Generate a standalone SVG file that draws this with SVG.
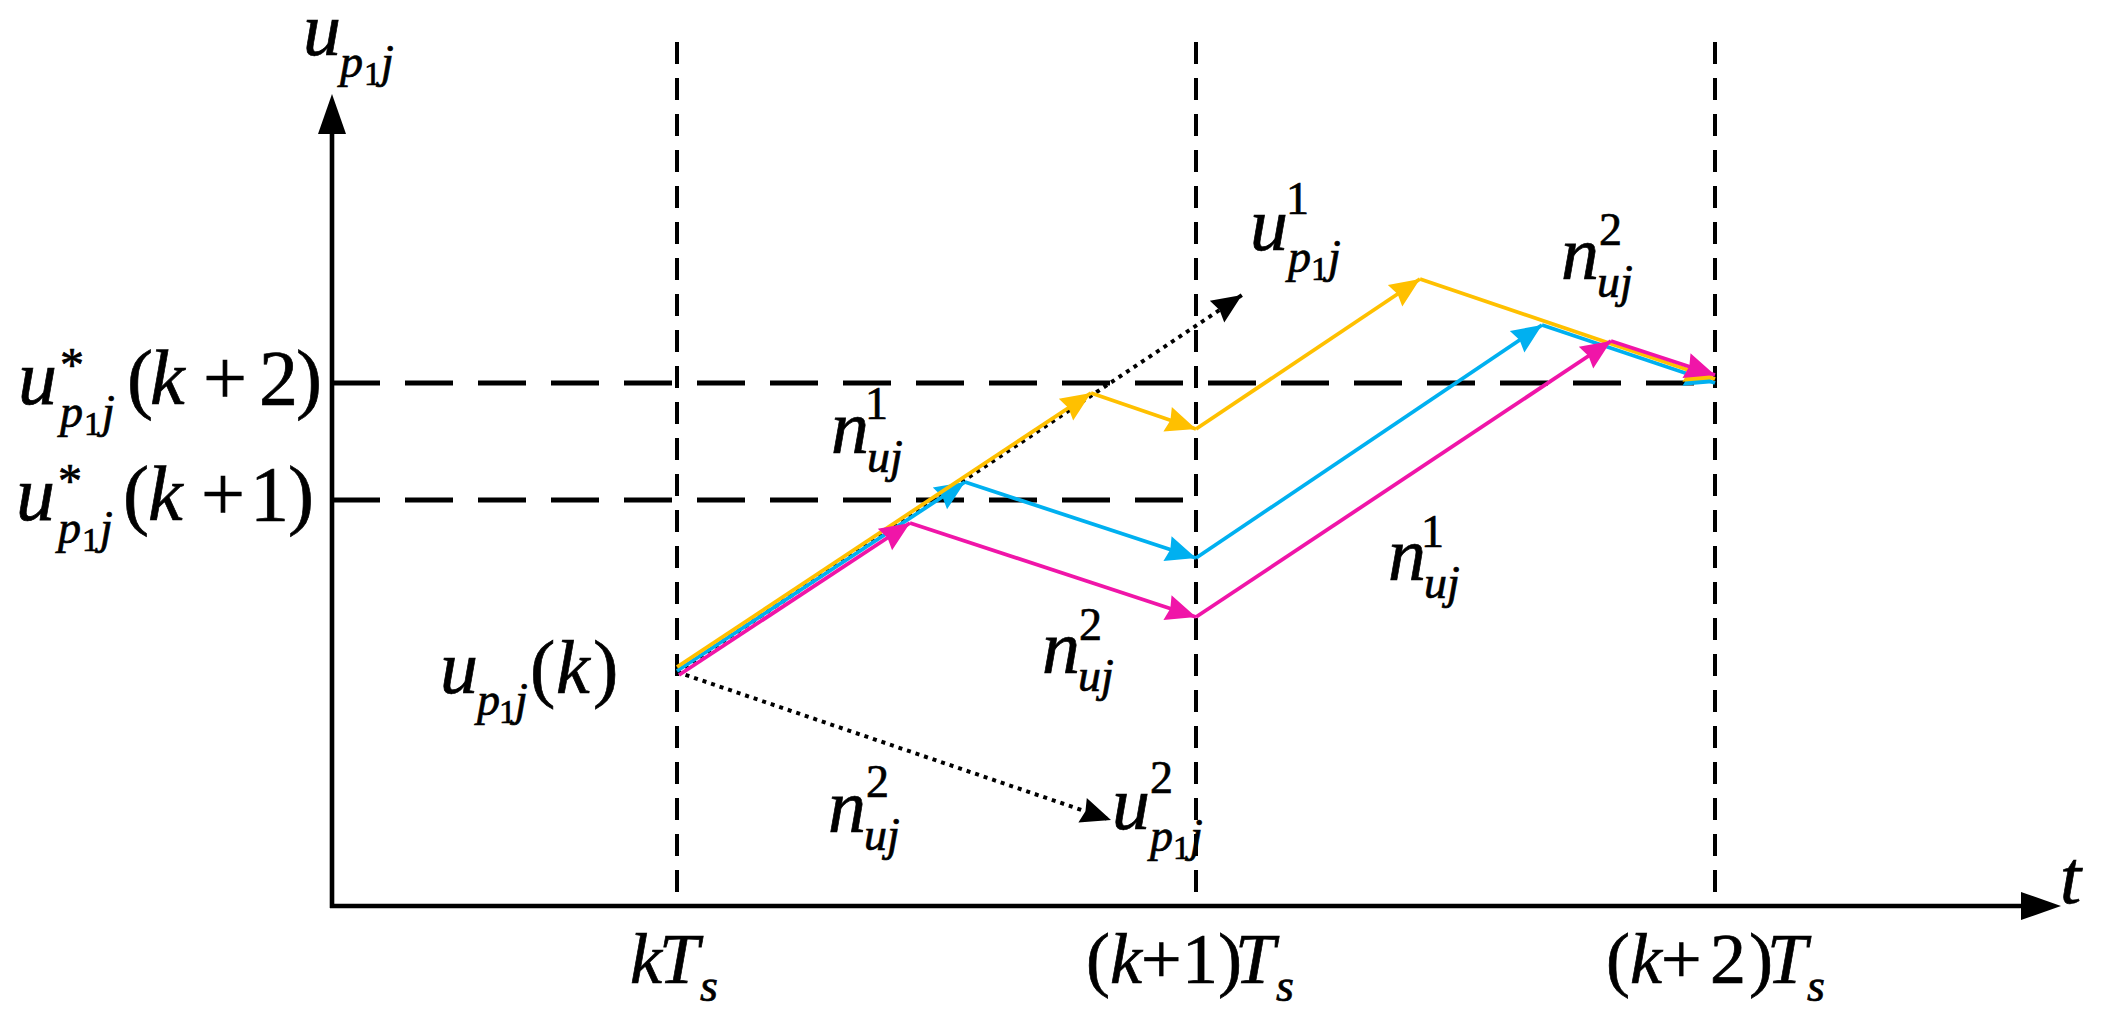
<svg xmlns="http://www.w3.org/2000/svg" width="2107" height="1019" viewBox="0 0 2107 1019">
<style>
text{font-family:"Liberation Serif","Times New Roman",serif;fill:#000;stroke:#000;stroke-width:0.7}
.it{font-size:76px;font-style:italic}
.rm{font-size:76px}
.L{font-size:78px}
.tk{font-size:72px}
.si{font-size:46px;font-style:italic}
.sr{font-size:46px}
.ss{font-size:34px}
.vd{stroke:#000;stroke-width:4;stroke-dasharray:22 14;fill:none}
.hd{stroke:#000;stroke-width:4.8;stroke-dasharray:48 25;fill:none}
.ax{stroke:#000;stroke-width:4.6;fill:none}
.dot{stroke:#000;stroke-width:4;stroke-dasharray:4 5;fill:none}
.o{stroke:#FFC000;stroke-width:3.8;fill:none;marker-end:url(#mo)}
.c{stroke:#00B0F0;stroke-width:3.8;fill:none;marker-end:url(#mc)}
.p{stroke:#F015A8;stroke-width:3.8;fill:none;marker-end:url(#mp)}
</style>
<defs>
<marker id="mo" markerUnits="userSpaceOnUse" viewBox="-32 -15 34 30" markerWidth="34" markerHeight="30" refX="0" refY="0" orient="auto"><path d="M0,0 L-30,-13 L-27,0 L-30,13 Z" fill="#FFC000"/></marker>
<marker id="mc" markerUnits="userSpaceOnUse" viewBox="-32 -15 34 30" markerWidth="34" markerHeight="30" refX="0" refY="0" orient="auto"><path d="M0,0 L-30,-13 L-27,0 L-30,13 Z" fill="#00B0F0"/></marker>
<marker id="mp" markerUnits="userSpaceOnUse" viewBox="-32 -15 34 30" markerWidth="34" markerHeight="30" refX="0" refY="0" orient="auto"><path d="M0,0 L-30,-13 L-27,0 L-30,13 Z" fill="#F015A8"/></marker>
<marker id="mk" markerUnits="userSpaceOnUse" viewBox="-32 -15 34 30" markerWidth="34" markerHeight="30" refX="0" refY="0" orient="auto"><path d="M0,0 L-30,-13 L-27,0 L-30,13 Z" fill="#000"/></marker>
</defs>
<rect width="2107" height="1019" fill="#fff"/>

<g id="grid">
<line class="vd" x1="677" y1="42" x2="677" y2="906"/>
<line class="vd" x1="1196" y1="42" x2="1196" y2="906"/>
<line class="vd" x1="1715" y1="42" x2="1715" y2="906"/>
<line class="hd" x1="332" y1="383" x2="1715" y2="383"/>
<line class="hd" x1="332" y1="500" x2="1196" y2="500"/>
</g>

<g id="axes">
<line class="ax" x1="332" y1="908" x2="332" y2="130"/>
<path d="M332,94 L318,134 L346,134 Z" fill="#000"/>
<line class="ax" x1="330" y1="906" x2="2025" y2="906"/>
<path d="M2061,906 L2021,892 L2021,920 Z" fill="#000"/>
</g>

<g id="connectors">
<line class="dot" x1="677" y1="672" x2="1242" y2="295" style="marker-end:url(#mk)"/>
<line class="dot" x1="677" y1="672" x2="1111" y2="820" style="marker-end:url(#mk)"/>
<line class="c" x1="677" y1="671" x2="965" y2="482"/>
<line class="c" x1="965" y1="482" x2="1196" y2="558"/>
<line class="c" x1="1196" y1="558" x2="1542" y2="325"/>
<line class="c" x1="1542" y1="325" x2="1715" y2="383"/>
<line class="o" x1="677" y1="667" x2="1091" y2="393"/>
<line class="o" x1="1091" y1="393" x2="1196" y2="429"/>
<line class="o" x1="1196" y1="429" x2="1420" y2="279"/>
<line class="o" x1="1420" y1="279" x2="1715" y2="379"/>
<line class="p" x1="679" y1="675" x2="910" y2="523"/>
<line class="p" x1="910" y1="523" x2="1196" y2="617"/>
<line class="p" x1="1196" y1="617" x2="1611" y2="341"/>
<line class="p" x1="1611" y1="341" x2="1715" y2="375"/>
</g>

<g id="label-yaxis">
<text class="it" x="303" y="55">u</text>
<text class="si" x="340" y="77">p</text>
<text class="ss" x="364" y="85">1</text>
<text class="si" x="381" y="77">j</text>
</g>

<g id="label-ref2">
<text class="it L" x="18" y="404">u</text>
<text class="sr" x="60" y="381" style="font-size:48px">*</text>
<text class="si" x="60" y="427">p</text>
<text class="ss" x="84" y="435">1</text>
<text class="si" x="102" y="427">j</text>
<text class="rm L" x="127" y="404">(</text>
<text class="it L" x="150" y="404">k</text>
<text class="rm L" x="203" y="404">+</text>
<text class="rm L" x="259" y="404">2</text>
<text class="rm L" x="296" y="404">)</text>
</g>

<g id="label-ref1">
<text class="it L" x="16" y="520">u</text>
<text class="sr" x="58" y="497" style="font-size:48px">*</text>
<text class="si" x="58" y="543">p</text>
<text class="ss" x="82" y="551">1</text>
<text class="si" x="100" y="543">j</text>
<text class="rm L" x="123" y="520">(</text>
<text class="it L" x="148" y="520">k</text>
<text class="rm L" x="201" y="520">+</text>
<text class="rm L" x="250" y="520">1</text>
<text class="rm L" x="288" y="520">)</text>
</g>

<g id="label-uk">
<text class="it" x="440" y="693">u</text>
<text class="si" x="477" y="715">p</text>
<text class="ss" x="499" y="723">1</text>
<text class="si" x="515" y="715">j</text>
<text class="rm" x="530" y="693">(</text>
<text class="it" x="556" y="693">k</text>
<text class="rm" x="593" y="693">)</text>
</g>

<g id="label-u1">
<text class="it" x="1250" y="250">u</text>
<text class="sr" x="1286" y="214">1</text>
<text class="si" x="1288" y="272">p</text>
<text class="ss" x="1311" y="280">1</text>
<text class="si" x="1328" y="272">j</text>
</g>

<g id="label-u2">
<text class="it" x="1112" y="829">u</text>
<text class="sr" x="1150" y="793">2</text>
<text class="si" x="1150" y="851">p</text>
<text class="ss" x="1173" y="859">1</text>
<text class="si" x="1190" y="851">j</text>
</g>

<g id="label-n1-a">
<text class="it" x="831" y="453">n</text>
<text class="sr" x="865" y="419">1</text>
<text class="si" x="867" y="472">u</text>
<text class="si" x="890" y="472">j</text>
</g>

<g id="label-n2-a">
<text class="it" x="1042" y="673">n</text>
<text class="sr" x="1079" y="640">2</text>
<text class="si" x="1078" y="691">u</text>
<text class="si" x="1101" y="691">j</text>
</g>

<g id="label-n1-b">
<text class="it" x="1388" y="580">n</text>
<text class="sr" x="1421" y="547">1</text>
<text class="si" x="1424" y="598">u</text>
<text class="si" x="1447" y="598">j</text>
</g>

<g id="label-n2-b">
<text class="it" x="1561" y="279">n</text>
<text class="sr" x="1599" y="245">2</text>
<text class="si" x="1597" y="297">u</text>
<text class="si" x="1620" y="297">j</text>
</g>

<g id="label-n2-c">
<text class="it" x="828" y="832">n</text>
<text class="sr" x="866" y="797">2</text>
<text class="si" x="864" y="850">u</text>
<text class="si" x="887" y="850">j</text>
</g>

<g id="label-t">
<text class="it" x="2060" y="903">t</text>
</g>

<g id="tick-k">
<text class="it tk" x="630" y="983">k</text>
<text class="it tk" x="659" y="983">T</text>
<text class="si" x="700" y="1001">s</text>
</g>

<g id="tick-k1">
<text class="rm tk" x="1086" y="983">(</text>
<text class="it tk" x="1110" y="983">k</text>
<text class="rm tk" x="1141" y="983">+</text>
<text class="rm tk" x="1182" y="983">1</text>
<text class="rm tk" x="1218" y="983">)</text>
<text class="it tk" x="1235" y="983">T</text>
<text class="si" x="1276" y="1001">s</text>
</g>

<g id="tick-k2">
<text class="rm tk" x="1606" y="983">(</text>
<text class="it tk" x="1630" y="983">k</text>
<text class="rm tk" x="1661" y="983">+</text>
<text class="rm tk" x="1710" y="983">2</text>
<text class="rm tk" x="1749" y="983">)</text>
<text class="it tk" x="1767" y="983">T</text>
<text class="si" x="1807" y="1001">s</text>
</g>
</svg>
